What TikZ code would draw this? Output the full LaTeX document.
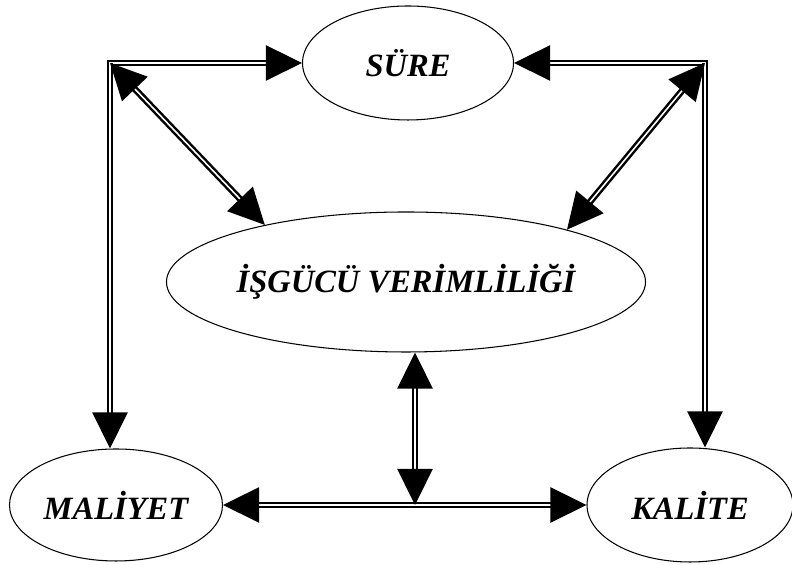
\documentclass[tikz,border=0pt]{standalone}
\usepackage{fontspec}
\setmainfont{Liberation Serif}
\usepackage{tikz}
\usetikzlibrary{shapes.geometric, arrows.meta, positioning, calc}
\tikzset{
  oval/.style={ellipse, draw=black, line width=0.6pt, inner sep=0pt,
    font=\fontsize{18.5}{22}\selectfont\bfseries\itshape},
  dblarrow/.style={{Triangle[length=0.72cm, width=0.7cm]}-{Triangle[length=0.72cm, width=0.7cm]},
    double, double distance=0.9pt, line width=1.4pt},
  onearrow/.style={-{Triangle[length=0.72cm, width=0.7cm]},
    double, double distance=0.9pt, line width=1.4pt}
}
\begin{document}
\begin{tikzpicture}
  \useasboundingbox (0,0) rectangle (15.84,11.3);
  % Ovals
  \node[oval, minimum width=4.22cm, minimum height=2.28cm] (sure) at (8.16,10.04) {SÜRE};
  \node[oval, minimum width=8.04cm, minimum height=2.8cm] (isgucu) at (8.12,5.66) {İŞGÜCÜ VERİMLİLİĞİ};
  \node[oval, minimum width=4.26cm, minimum height=2.24cm] (maliyet) at (2.32,1.2) {MALİYET};
  \node[oval, minimum width=4.12cm, minimum height=2.28cm] (kalite) at (13.8,1.2) {KALİTE};
  % Corners
  \coordinate (cTL) at (2.2,10.04);
  \coordinate (cTR) at (14.1,10.04);
  \coordinate (cB) at (8.3,1.2);

  % Left side
  \draw[onearrow, line cap=rect] (cTL) -- (sure.west);
  \draw[onearrow] (cTL) -- (cTL |- maliyet.north);
  \draw[dblarrow] (cTL) -- (isgucu.158);
  % Right side
  \draw[onearrow, line cap=rect] (cTR) -- (sure.east);
  \draw[onearrow] (cTR) -- (cTR |- kalite.north);
  \draw[dblarrow] (cTR) -- (isgucu.18);
  % Bottom
  \draw[dblarrow] (maliyet.east) -- (kalite.west);
  \draw[dblarrow] (cB |- isgucu.south) -- (cB);
\end{tikzpicture}
\end{document}
